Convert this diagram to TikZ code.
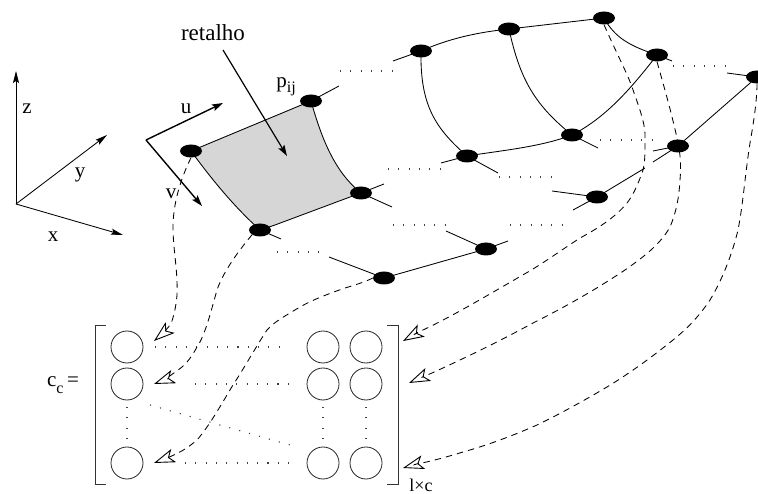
\documentclass[tikz,border=0pt]{standalone}
\usepackage{fontspec}
\setmainfont{Liberation Serif}
\usetikzlibrary{arrows.meta,shapes.geometric,backgrounds}
\tikzset{
  meshpt/.style={ellipse,fill=black,inner sep=0pt,minimum width=22pt,minimum height=13pt},
  cellc/.style={circle,draw=black!85,line width=0.8pt,inner sep=0pt,minimum size=32pt},
  meshline/.style={line width=0.85pt,black},
  dotline/.style={line width=1.1pt,black!75,dash pattern=on 1.1pt off 9.2pt},
  dashline/.style={line width=0.85pt,black,dash pattern=on 6.5pt off 5pt},
  hollow/.style={-{Stealth[open,length=21pt,width=14pt,inset=5pt,line width=0.9pt,sep=0pt]}},
  axisline/.style={line width=0.85pt,-{Stealth[length=12pt,width=6pt,inset=2pt]}},
  thickaxis/.style={line width=1.4pt,-{Stealth[length=11pt,width=7pt,inset=2pt]}},
  lab/.style={inner sep=0pt,font=\fontsize{21}{24}\selectfont},
  brk/.style={line width=0.9pt,black!80},
}
\begin{document}
\begin{tikzpicture}[x=1pt,y=-1pt]
\useasboundingbox (0,0) rectangle (758,494);
% mesh points
\node[meshpt] (a) at (191,151) {};
\node[meshpt] (pij) at (311,101) {};
\node[meshpt] (b) at (361,193) {};
\node[meshpt] (c) at (260,230) {};
\node[meshpt] (i) at (421,51) {};
\node[meshpt] (j) at (509,29) {};
\node[meshpt] (k) at (604,18) {};
\node[meshpt] (l) at (657,55) {};
\node[meshpt] (m) at (757,77) {};
\node[meshpt] (h) at (572,135) {};
\node[meshpt] (g) at (467,156) {};
\node[meshpt] (n) at (678,146) {};
\node[meshpt] (p) at (597,197) {};
\node[meshpt] (e) at (486,249) {};
\node[meshpt] (f) at (384,278) {};
% matrix cells
\node[cellc] (c11) at (127,347) {};
\node[cellc] (c21) at (127,384) {};
\node[cellc] (c31) at (127,463) {};
\node[cellc] (c12) at (323,347) {};
\node[cellc] (c22) at (323,384) {};
\node[cellc] (c32) at (323,463) {};
\node[cellc] (c13) at (366,347) {};
\node[cellc] (c23) at (366,384) {};
\node[cellc] (c33) at (366,463) {};
% free ends
\coordinate (o) at (16,204);
\coordinate (zz) at (16,71);
\coordinate (yy) at (107,135);
\coordinate (xx) at (123,235);
\coordinate (uv) at (146,140);
\coordinate (uu) at (223,103);
\coordinate (vv) at (202,206);
\coordinate (rs) at (223,50);
\coordinate (re) at (287,156);
\coordinate (t1) at (154,341);
\coordinate (t2) at (154,384);
\coordinate (t3) at (154,463);
\coordinate (t4) at (403,341);
\coordinate (t5) at (409,383);
\coordinate (t6) at (403,468);
\begin{scope}[on background layer]
\fill[black!16] (a.center) -- (pij.center) .. controls (322,140) and (335,172) .. (b.center)
  -- (350,197) -- (275,225) -- (c.center) .. controls (240,212) and (218,188) .. (a.center) -- cycle;
\draw[meshline] (a.center) -- (pij.center);
\draw[meshline] (pij.center) .. controls (322,140) and (335,172) .. (b.center);
\draw[meshline] (b.center) -- (350,197) -- (275,225) -- (c.center);
\draw[meshline] (c.center) .. controls (240,212) and (218,188) .. (a.center);
\draw[meshline] (pij.center) -- (339,86);
\draw[meshline] (c.center) -- (281,239);
\draw[meshline] (b.center) -- (384,184);
\draw[meshline] (b.center) -- (392,207);
\draw[meshline] (e.center) -- (446,231);
\draw[meshline] (e.center) -- (508,241);
\draw[meshline] (e.center) -- (f.center);
\draw[meshline] (f.center) -- (329,257);
\draw[meshline] (g.center) -- (441,163);
\draw[meshline] (g.center) -- (498,173);
\draw[meshline] (g.center) .. controls (505,150) and (540,147) .. (h.center);
\draw[meshline] (h.center) -- (598,148);
\draw[meshline] (i.center) .. controls (420,105) and (435,128) .. (g.center);
\draw[meshline] (i.center) -- (393,61);
\draw[meshline] (i.center) .. controls (450,38) and (480,32) .. (j.center);
\draw[meshline] (j.center) -- (k.center);
\draw[meshline] (j.center) .. controls (520,80) and (535,105) .. (h.center);
\draw[meshline] (k.center) .. controls (615,38) and (630,46) .. (l.center);
\draw[meshline] (l.center) .. controls (630,90) and (605,118) .. (h.center);
\draw[meshline] (l.center) -- (672,61);
\draw[meshline] (m.center) -- (727,73);
\draw[meshline] (m.center) -- (n.center);
\draw[meshline] (n.center) -- (653,162);
\draw[meshline] (p.center) -- (645,168);
\draw[meshline] (n.center) -- (653,151);
\draw[meshline] (p.center) -- (552,191);
\draw[meshline] (p.center) -- (573,210);
\end{scope}
% dotted lines
\draw[dotline] (340,71) -- (392,71);
\draw[dotline] (673,66) -- (727,66);
\draw[dotline] (600,140) -- (652,140);
\draw[dotline] (388,169) -- (440,169);
\draw[dotline] (499,177) -- (552,177);
\draw[dotline] (393,225) -- (445,225);
\draw[dotline] (510,225) -- (562,225);
\draw[dotline] (277,252) -- (328,252);
\draw[dotline] (155,347) -- (288,347);
\draw[dotline] (195,384) -- (288,384);
\draw[dotline] (185,463) -- (298,463);
\draw[dotline] (150,405) -- (297,447);
\draw[dotline] (c21) ++(0,23) -- ++(0,32);
\draw[dotline] (c22) ++(0,23) -- ++(0,32);
\draw[dotline] (c23) ++(0,23) -- ++(0,32);
% axes
\draw[axisline] (o) -- (zz);
\draw[axisline] (o) -- (yy);
\draw[axisline] (o) -- (xx);
\draw[thickaxis] (uv) -- (uu);
\draw[thickaxis] (uv) -- (vv);
\draw[thickaxis,line width=1.2pt] (rs) -- (re);
% dashed connectors
\draw[dashline,hollow] (a.south) .. controls (180,180) and (173,205) .. (173,227)
  .. controls (173,250) and (178,270) .. (177,295)
  .. controls (176,307) and (174,315) .. (171,324)
  .. controls (167,329) and (160,336) .. (t1);
\draw[dashline,hollow] (c.south west) .. controls (235,255) and (222,275) .. (217,290)
  .. controls (210,315) and (205,335) .. (197,347)
  .. controls (190,360) and (184,366) .. (178,370)
  .. controls (170,376) and (162,381) .. (t2);
\draw[dashline,hollow] (f.west) .. controls (365,282) and (355,285) .. (345,288)
  .. controls (328,294) and (312,300) .. (300,307)
  .. controls (285,316) and (274,322) .. (267,330)
  .. controls (257,345) and (246,365) .. (233,385)
  .. controls (222,403) and (210,425) .. (197,440)
  .. controls (190,446) and (184,450) .. (178,453)
  .. controls (170,457) and (162,460) .. (t3);
\draw[dashline,hollow] (k.south) .. controls (615,50) and (628,75) .. (632,87)
  .. controls (640,110) and (646,125) .. (645,140)
  .. controls (645,155) and (645,162) .. (643,170)
  .. controls (638,185) and (632,197) .. (627,203)
  .. controls (615,218) and (595,230) .. (580,238)
  .. controls (563,249) and (545,262) .. (528,272)
  .. controls (493,292) and (455,315) .. (423,330)
  .. controls (416,333) and (410,337) .. (t4);
\draw[dashline,hollow] (l.south) .. controls (665,90) and (672,115) .. (677,138)
  .. controls (681,155) and (681,168) .. (680,180)
  .. controls (679,198) and (676,213) .. (670,227)
  .. controls (660,245) and (642,258) .. (625,270)
  .. controls (595,290) and (565,307) .. (533,323)
  .. controls (500,341) and (465,358) .. (432,373)
  .. controls (425,376) and (418,379) .. (t5);
\draw[dashline,hollow] (m.south) .. controls (757,100) and (754,120) .. (750,143)
  .. controls (745,175) and (743,205) .. (738,230)
  .. controls (732,255) and (722,280) .. (710,300)
  .. controls (700,315) and (688,328) .. (673,340)
  .. controls (652,357) and (630,373) .. (607,387)
  .. controls (585,400) and (560,414) .. (537,425)
  .. controls (512,436) and (488,445) .. (463,452)
  .. controls (450,456) and (436,460) .. (422,463)
  .. controls (415,464) and (410,466) .. (t6);
% brackets
\draw[brk] (106,325) -- (95,325) -- (95,484) -- (106,484);
\draw[brk] (387,325) -- (398,325) -- (398,484) -- (387,484);
% labels
\node[lab,font=\fontsize{23}{26}\selectfont] (tret) at (213,33) {retalho};
\node[lab] (tp) at (286,87) {p\raisebox{-5pt}{\fontsize{16}{18}\selectfont ij}};
\node[lab] (tz) at (27,109) {z};
\node[lab] (ty) at (80,175) {y};
\node[lab] (tx) at (53,237) {x};
\node[lab] (tu) at (186,109) {u};
\node[lab] (tv) at (171,194) {v};
\node[lab] (tc) at (63,385) {c\raisebox{-7pt}{\fontsize{16}{18}\selectfont c}\,=};
\node[lab,font=\fontsize{18}{20}\selectfont] (tlc) at (421,485) {l×c};
\end{tikzpicture}
\end{document}
